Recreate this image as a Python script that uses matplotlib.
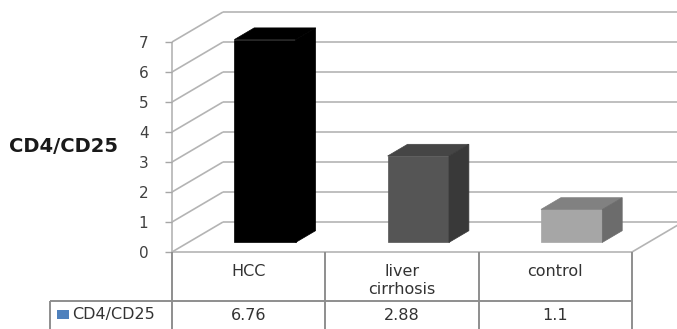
import matplotlib
matplotlib.use('Agg')
import matplotlib.pyplot as plt
from matplotlib.patches import Polygon, Rectangle
from matplotlib.lines import Line2D

# ---- data ----
categories = ['HCC', 'liver\ncirrhosis', 'control']
values = [6.76, 2.88, 1.1]
value_labels = ['6.76', '2.88', '1.1']
series_name = 'CD4/CD25'
y_ticks = [0, 1, 2, 3, 4, 5, 6, 7]
bar_colors = [  # front, top, side
    ('#000000', '#000000', '#000000'),
    ('#555555', '#454545', '#393939'),
    ('#a6a6a6', '#818181', '#6c6c6c'),
]

W, H, DPI = 677, 329, 100
fig = plt.figure(figsize=(W / DPI, H / DPI), dpi=DPI)

# front plane of the 3-D box (pixel frame)
x0, x1 = 172, 632
y_top, y_base = 42, 252
ax = fig.add_axes([x0 / W, 1 - y_base / H, (x1 - x0) / W, (y_base - y_top) / H])
ncat = len(categories)
ax.set_xlim(0, ncat)
ax.set_ylim(0, 7)
ax.set_facecolor('none')
for s in ax.spines.values():
    s.set_visible(False)
ax.set_xticks([])
ax.set_yticks(y_ticks)
ax.tick_params(axis='y', length=5, width=1, color='#a6a6a6', pad=12,
               labelsize=11, labelcolor='#404040')

px_x = (x1 - x0) / ncat
px_y = (y_base - y_top) / 7
# depth of the box: back wall shifted right and up
DX = 51 / px_x
DY = 30 / px_y

grid = '#b4b4b4'


def line(a, xs, ys, color=grid, lw=1.2, z=1):
    a.add_line(Line2D(xs, ys, color=color, lw=lw, clip_on=False,
                      solid_capstyle='butt', zorder=z))


# side wall and back wall gridlines
for v in y_ticks:
    line(ax, [0, DX], [v, v + DY])
    line(ax, [DX, ncat + DX + 1], [v + DY, v + DY])
line(ax, [0, 0], [0, 7])
line(ax, [0, ncat], [0, 0])
line(ax, [ncat, ncat + DX], [0, DY])

# 3-D columns
bar_w = 0.40
front_d, back_d = 0.32, 0.71
ddx = (back_d - front_d) * DX
ddy = (back_d - front_d) * DY
for i, (v, (cf, ct, cs)) in enumerate(zip(values, bar_colors)):
    xc = i + 0.5
    xl = xc - bar_w / 2 + front_d * DX
    xr = xc + bar_w / 2 + front_d * DX
    yb = front_d * DY
    yt = v + front_d * DY
    faces = [
        ([(xl, yb), (xr, yb), (xr, yt), (xl, yt)], cf),
        ([(xl, yt), (xr, yt), (xr + ddx, yt + ddy), (xl + ddx, yt + ddy)], ct),
        ([(xr, yb), (xr + ddx, yb + ddy), (xr + ddx, yt + ddy), (xr, yt)], cs),
    ]
    for pts, c in faces:
        ax.add_patch(Polygon(pts, closed=True, facecolor=c, edgecolor=c,
                             lw=0.5, clip_on=False, zorder=3))

# ---- data table below the plot ----
tab_left = 50
tab = fig.add_axes([tab_left / W, 0, (x1 - tab_left) / W, (H - y_base) / H])
lx = -(x0 - tab_left) / px_x
tab.set_xlim(lx, ncat)
tab.set_ylim(0, H - y_base)
tab.axis('off')
row_y = H - 301
tcol = '#8e8e8e'
line(tab, [lx, ncat], [row_y, row_y], color=tcol, lw=1.4)
for k in range(ncat + 1):
    line(tab, [k, k], [0, H - y_base], color=tcol, lw=1.4)
line(tab, [lx, lx], [0, row_y], color=tcol, lw=1.4)

txt = '#333333'
for i, (c, vl) in enumerate(zip(categories, value_labels)):
    tab.text(i + 0.5, H - 264, c, ha='center', va='top', fontsize=11.5,
             color=txt, linespacing=1.25, multialignment='center')
    tab.text(i + 0.5, H - 315, vl, ha='center', va='center', fontsize=11.5,
             color=txt)


def px2x(p):
    return (p - x0) / px_x


tab.add_patch(Rectangle((px2x(57), H - 319), 12 / px_x, 9,
                        facecolor='#4f81bd', edgecolor='none', clip_on=False))
tab.text(px2x(72), H - 314, series_name, ha='left', va='center', fontsize=11.5,
         color=txt)

# axis title
fig.text(63 / W, 1 - 147 / H, series_name, ha='center', va='center',
         fontsize=14, fontweight='bold', color='#1a1a1a')

fig.savefig('out.png', dpi=DPI)
